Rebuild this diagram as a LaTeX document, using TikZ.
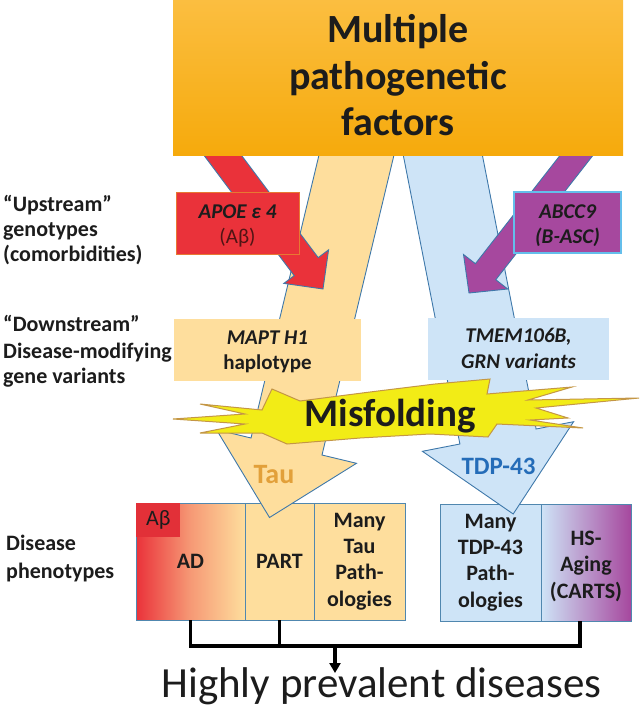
\documentclass[tikz,border=0pt]{standalone}
\usepackage{fontspec}
\setmainfont{Carlito}
\usetikzlibrary{arrows.meta,calc}
\definecolor{topA}{RGB}{251,190,64}
\definecolor{topB}{RGB}{246,170,12}
\definecolor{tauF}{RGB}{254,222,157}
\definecolor{tdpF}{RGB}{206,228,247}
\definecolor{redF}{RGB}{234,50,58}
\definecolor{abF}{RGB}{226,48,56}
\definecolor{purF}{RGB}{166,72,158}
\definecolor{outl}{RGB}{62,120,170}
\definecolor{boxD}{RGB}{80,135,175}
\definecolor{starF}{RGB}{242,236,22}
\definecolor{starD}{RGB}{196,150,70}
\definecolor{tauT}{RGB}{226,160,58}
\definecolor{tdpT}{RGB}{36,108,184}
\definecolor{apoeD}{RGB}{232,120,50}
\definecolor{abccD}{RGB}{100,190,235}
\definecolor{txt}{RGB}{28,28,28}
\definecolor{abT}{RGB}{80,20,20}
\begin{document}
\begin{tikzpicture}[x=1pt,y=-1pt,
  band/.style={draw=outl, line width=0.9pt, line join=miter},
  lbl/.style={anchor=base west, inner sep=0pt, text=txt, font=\fontsize{22}{26}\selectfont\bfseries},
  ln/.style={anchor=base, inner sep=0pt, text=txt},
  bx/.style={draw=boxD, line width=0.9pt, inner sep=0pt, align=center, text=txt, font=\fontsize{22}{26.3}\selectfont\bfseries, minimum height=117pt},
  conn/.style={draw=black, line width=3.2pt},
  gbox/.style={inner sep=0pt, draw=none}
]
\useasboundingbox (0,0) rectangle (640,707);

% bottom phenotype boxes
\node[bx, minimum width=109pt, left color=redF, right color=tauF, middle color=redF!40!tauF] (ad) at (190.5,561.5) {AD};
\node[gbox, fill=abF, minimum width=44pt, minimum height=34pt, anchor=north west, font=\fontsize{22}{26}\selectfont, text=txt] (ab) at ($(ad.north west)+(0.5,0.5)$) {Aβ};
\node[bx, minimum width=69pt, fill=tauF] (part) at (279.5,561.5) {PART};
\node[bx, minimum width=91pt, fill=tauF] (mtau) at (359.5,561.5) {Many\\Tau\\Path-\\ologies};
\node[bx, minimum width=101pt, fill=tdpF] (mtdp) at (490.5,562.5) {Many\\TDP-43\\Path-\\ologies};
\node[bx, minimum width=90pt, left color=tdpF, right color=purF] (hs) at (586,562.5) {};
\node[ln, anchor=center, align=center, font=\fontsize{22}{26.5}\selectfont\bfseries] (hstxt) at (586,566) {HS-\\Aging\\(CARTS)};

% big block arrows
\path[band, fill=tauF] (322.6,140) -- (251.0,438.0) -- (216.5,429.7) -- (269.5,517.5) -- (356.5,463.3) -- (322.0,455.0) -- (397.6,140) -- cycle;
\path[band, fill=tdpF] (400.3,140) -- (459.9,444.0) -- (422.4,451.3) -- (513.2,514.0) -- (573.6,421.7) -- (536.1,429.0) -- (479.4,140) -- cycle;
\path[band, fill=redF] (223.2,131) -- (318.2,257.6) -- (328.6,249.8) -- (323,289) -- (283.8,283.4) -- (294.2,275.6) -- (199.2,149) -- cycle;
\path[band, fill=purF] (598.7,148) -- (495.8,279.7) -- (507.7,289) -- (469,293) -- (463.5,254.5) -- (475.4,263.7) -- (578.3,132) -- cycle;

% top box
\node[gbox, top color=topA, bottom color=topB, minimum width=450pt, minimum height=155pt] (mpf) at (398,77.5) {};
\node[ln, font=\fontsize{40}{47}\selectfont\bfseries] (mpf1) at (398,42) {Multiple};
\node[ln, font=\fontsize{40}{47}\selectfont\bfseries] (mpf2) at (398,89) {pathogenetic};
\node[ln, font=\fontsize{40}{47}\selectfont\bfseries] (mpf3) at (398,135) {factors};

% upstream genotype boxes
\node[gbox, draw=apoeD, line width=1pt, fill=redF, minimum width=123pt, minimum height=62pt] (apoe) at (237.5,223) {};
\node[ln, font=\fontsize{21}{25}\selectfont\bfseries\itshape] (apoe1) at (237.5,218) {APOE ε 4};
\node[ln, text=abT, font=\fontsize{21}{25}\selectfont] (apoe2) at (237.5,243) {(Aβ)};
\node[gbox, draw=abccD, line width=1.2pt, fill=purF, minimum width=107pt, minimum height=61pt] (abcc) at (567.5,222.5) {};
\node[ln, font=\fontsize{21}{25}\selectfont\bfseries\itshape] (abcc1) at (567.5,218) {ABCC9};
\node[ln, font=\fontsize{21}{25}\selectfont\bfseries\itshape] (abcc2) at (567.5,243) {(B-ASC)};

% downstream gene variant boxes
\node[gbox, fill=tauF, minimum width=187pt, minimum height=62pt] (mapt) at (267.5,350) {};
\node[ln, font=\fontsize{21}{25}\selectfont\bfseries\itshape] (mapt1) at (267.5,344) {MAPT H1};
\node[ln, font=\fontsize{21}{25}\selectfont\bfseries] (mapt2) at (267.5,369) {haplotype};
\node[gbox, fill=tdpF, minimum width=181pt, minimum height=62pt] (tmem) at (518.5,348.5) {};
\node[ln, font=\fontsize{21}{25}\selectfont\bfseries\itshape] (tmem1) at (518.5,342) {TMEM106B,};
\node[ln, font=\fontsize{21}{25}\selectfont\bfseries\itshape] (tmem2) at (518.5,368) {GRN variants};

% misfolding starburst
\path[draw=starD, fill=starF, line width=1pt, line join=miter] (200,404) -- (262,410) -- (272,389) -- (300,401) -- (370,392) -- (435,384) -- (490,379) -- (487,394) -- (572,387) -- (528,400) -- (639,398) -- (536,408) -- (568,418) -- (530,420) -- (583,428) -- (497,424) -- (488,437) -- (430,434) -- (360,438) -- (287,444) -- (262,433) -- (200,433) -- (245,424) -- (173,419) -- (245,414) -- cycle;
\node[ln, font=\fontsize{39}{45}\selectfont\bfseries] (misf) at (390,426) {Misfolding};
\node[ln, text=tauT, font=\fontsize{28}{32}\selectfont\bfseries] (tau) at (274,483) {Tau};
\node[ln, text=tdpT, font=\fontsize{25}{30}\selectfont\bfseries] (tdp) at (498.5,474) {TDP-43};

% left labels
\node[lbl] (up1) at (3,211) {“Upstream”};
\node[lbl] (up2) at (3,236) {genotypes};
\node[lbl] (up3) at (3,261) {(comorbidities)};
\node[lbl] (dn1) at (3,331) {“Downstream”};
\node[lbl] (dn2) at (3,358) {Disease-modifying};
\node[lbl] (dn3) at (3,383) {gene variants};
\node[lbl] (ph1) at (6,550) {Disease};
\node[lbl] (ph2) at (6,578) {phenotypes};

% connectors
\coordinate (jn) at (335,646);
\coordinate (hsl) at ($(hs.south)+(-6,0)$);
\coordinate (hpt) at (335,673);
\draw[conn, line join=miter] (ad.south) |- (jn) -| (hsl);
\draw[conn] (part.south) -- (part.south |- jn);
\draw[conn, -{Triangle[width=11pt,length=10pt]}] (jn) -- (hpt);
\node[ln, font=\fontsize{43}{49}\selectfont] (hp) at (381.5,697) {Highly prevalent diseases};
\end{tikzpicture}
\end{document}
